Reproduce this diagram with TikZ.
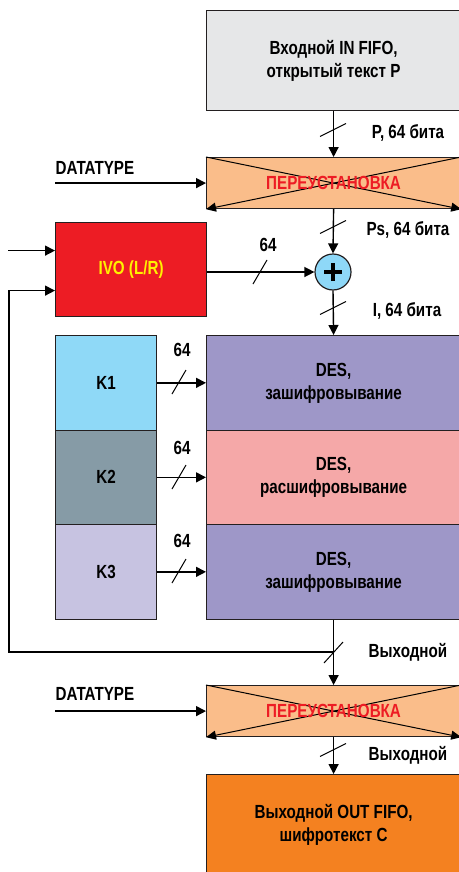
\documentclass[tikz,border=0pt]{standalone}
\usepackage{fontspec}
\setmainfont{Liberation Sans}[FakeStretch=0.80]
\usetikzlibrary{arrows.meta}

\definecolor{edge}{HTML}{231F20}
\definecolor{fifogray}{HTML}{E6E7E8}
\definecolor{permfill}{HTML}{FABD8A}
\definecolor{permtext}{HTML}{ED1C24}
\definecolor{ivored}{HTML}{ED1C24}
\definecolor{ivotext}{HTML}{FFF200}
\definecolor{xorblue}{HTML}{8ED8F8}
\definecolor{keyone}{HTML}{8FD9F7}
\definecolor{keytwo}{HTML}{869BA6}
\definecolor{keythree}{HTML}{C7C3E1}
\definecolor{desenc}{HTML}{9E97C8}
\definecolor{desdec}{HTML}{F5A8A8}
\definecolor{outorange}{HTML}{F48120}

\tikzset{
  box/.style={draw=edge, line width=1.2pt, inner sep=0pt, anchor=north west,
    align=center, font=\bfseries\fontsize{19}{23}\selectfont},
  lbl/.style={inner sep=0pt, font=\bfseries\fontsize{19}{23}\selectfont},
  flow/.style={draw=black, line width=1.4pt, -{Triangle[length=10pt,width=10pt]}},
  crossline/.style={draw=black, line width=1pt, -{Triangle[length=10pt,width=9pt]}},
  vbus/.pic={\draw[line width=1pt] (-13,6.5) -- (13,-6.5);},
  hbus/.pic={\draw[line width=1pt] (-7,12) -- (7,-12);},
  fbbus/.pic={\draw[line width=1pt] (-9,11) -- (10,-10);}
}

\begin{document}
\begin{tikzpicture}[x=1pt,y=-1pt]
\useasboundingbox (0,0) rectangle (458,872);

% input FIFO
\node[box, fill=fifogray, minimum width=254pt, minimum height=100pt] (infifo)
  at (206,10) {Входной IN FIFO,\\открытый текст P};

% first permutation
\node[box, fill=permfill, minimum width=254pt, minimum height=51pt] (permA) at (206,157) {};
\draw[crossline] (permA.north west) -- (permA.south east);
\draw[crossline] (permA.north east) -- (permA.south west);
\node[lbl, text=permtext] (permAtxt) at (permA.center) {ПЕРЕУСТАНОВКА};

\draw[flow] (infifo.south) -- (permA.north);
\pic at (333,130) {vbus};
\node[lbl] (lblP) at (408,133) {P, 64 бита};

\node[lbl] (dtA) at (95,168) {DATATYPE};
\draw[flow] ([xshift=-151pt]permA.west) -- (permA.west);

% XOR
\node[circle, draw=edge, fill=xorblue, line width=1.2pt, minimum size=36pt, inner sep=0pt] (xor) at (333,272) {};
\draw[line width=3.2pt] ([xshift=-9pt]xor.center) -- ([xshift=9pt]xor.center);
\draw[line width=3.2pt] ([yshift=-9pt]xor.center) -- ([yshift=9pt]xor.center);

\draw[flow] (permA.south) -- (xor.north);
\pic at (333,227) {vbus};
\node[lbl] (lblPs) at (408,230) {Ps, 64 бита};

% IVO register
\node[box, fill=ivored, text=ivotext, minimum width=151pt, minimum height=94pt] (ivo)
  at (55,222) {IVO (L/R)};
\draw[flow] (ivo.east |- xor.west) -- (xor.west);
\pic at (260,272) {hbus};
\node[lbl] (lblivo) at (268,245) {64};
\draw[flow] ([xshift=-47pt,yshift=19pt]ivo.west) -- ([yshift=19pt]ivo.west);

% keys
\node[box, fill=keyone, minimum width=101pt, minimum height=94.5pt] (k1) at (55,335) {K1};
\node[box, fill=keytwo, minimum width=101pt, minimum height=94.5pt] (k2) at (55,429.5) {K2};
\node[box, fill=keythree, minimum width=101pt, minimum height=94.5pt] (k3) at (55,524) {K3};

% DES stages
\node[box, fill=desenc, minimum width=254pt, minimum height=94.5pt] (des1) at (206,335) {DES,\\зашифровывание};
\node[box, fill=desdec, minimum width=254pt, minimum height=94.5pt] (des2) at (206,429.5) {DES,\\расшифровывание};
\node[box, fill=desenc, minimum width=254pt, minimum height=94.5pt] (des3) at (206,524) {DES,\\зашифровывание};

\draw[flow] (xor.south) -- (des1.north);
\pic at (333,308) {vbus};
\node[lbl] (lblI) at (407,311) {I, 64 бита};

\draw[flow] (k1.east) -- (k1.east -| des1.west);
\draw[flow] (k2.east) -- (k2.east -| des2.west);
\draw[flow] (k3.east) -- (k3.east -| des3.west);
\pic at (179,382) {hbus};
\pic at (179,477) {hbus};
\pic at (179,571) {hbus};
\node[lbl] (lblk1) at (182,350) {64};
\node[lbl] (lblk2) at (182,448) {64};
\node[lbl] (lblk3) at (182,541) {64};

% second permutation
\node[box, fill=permfill, minimum width=254pt, minimum height=51pt] (permB) at (206,685) {};
\draw[crossline] (permB.north west) -- (permB.south east);
\draw[crossline] (permB.north east) -- (permB.south west);
\node[lbl, text=permtext] (permBtxt) at (permB.center) {ПЕРЕУСТАНОВКА};

\draw[flow] (des3.south) -- (permB.north);
\coordinate (fbjoin) at (333,652);
\coordinate (fbleft) at (9,652);
\draw[flow] (fbjoin) -- (fbleft) |- ([yshift=-21pt]ivo.west);
\pic at (333,652) {fbbus};
\node[lbl] (lblout1) at (408,652) {Выходной};

\node[lbl] (dtB) at (95,694) {DATATYPE};
\draw[flow] ([xshift=-151pt]permB.west) -- (permB.west);

% output FIFO
\node[box, fill=outorange, minimum width=254pt, minimum height=100pt] (outfifo)
  at (206,774) {Выходной OUT FIFO,\\шифротекст C};
\draw[flow] (permB.south) -- (outfifo.north);
\pic at (333,750) {vbus};
\node[lbl] (lblout2) at (408,755) {Выходной};
\end{tikzpicture}
\end{document}
